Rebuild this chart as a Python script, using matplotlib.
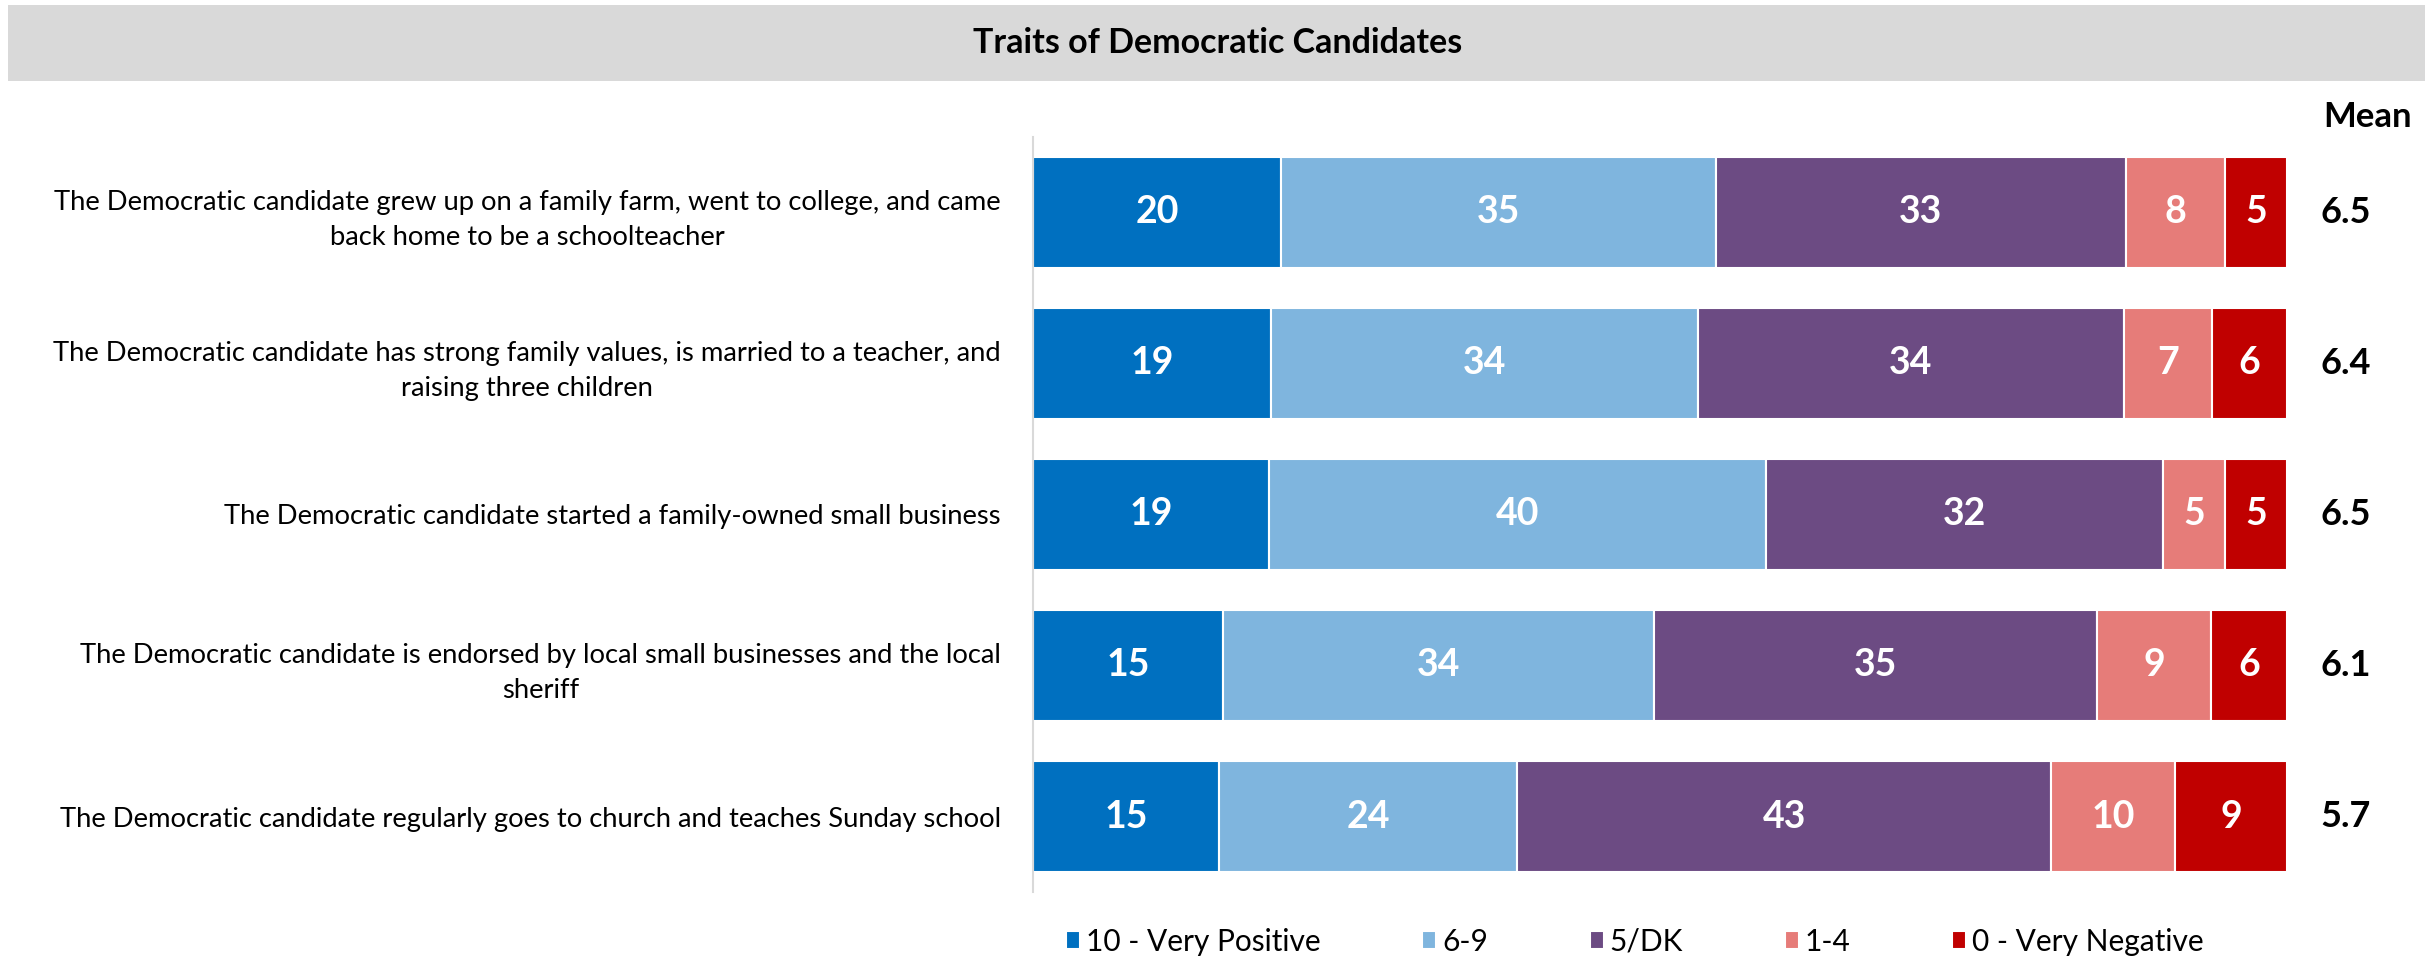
import matplotlib.pyplot as plt
import matplotlib as mpl
import numpy as np

mpl.rcParams["font.family"] = ["Lato", "DejaVu Sans"]

statements = [
    "The Democratic candidate grew up on a family farm, went to college, and came\nback home to be a schoolteacher",
    "The Democratic candidate has strong family values, is married to a teacher, and\nraising three children",
    "The Democratic candidate started a family-owned small business",
    "The Democratic candidate is endorsed by local small businesses and the local\nsheriff",
    "The Democratic candidate regularly goes to church and teaches Sunday school",
]

categories = ["10 - Very Positive", "6-9", "5/DK", "1-4", "0 - Very Negative"]
very_positive = [20, 19, 19, 15, 15]
positive = [35, 34, 40, 34, 24]
neutral_dk = [33, 34, 32, 35, 43]
negative = [8, 7, 5, 9, 10]
very_negative = [5, 6, 5, 6, 9]
means = [6.5, 6.4, 6.5, 6.1, 5.7]

colors = ["#0070C0", "#7FB5DE", "#6C4B83", "#E67C79", "#C00000"]

series = [very_positive, positive, neutral_dk, negative, very_negative]
# rounded shares don't always add to 100, so each bar is scaled to its row total
totals = np.sum(series, axis=0)

fig = plt.figure(figsize=(24.33, 9.66), dpi=100)

# grey title band across the top
fig.patches.append(
    mpl.patches.Rectangle(
        (0.0033, 0.916), 0.9934, 0.0787,
        transform=fig.transFigure, facecolor="#D9D9D9", edgecolor="none",
    )
)
fig.text(0.5006, 0.9555, "Traits of Democratic Candidates",
         ha="center", va="center", fontsize=24.5, fontweight="bold")

ax = fig.add_axes([0.4246, 0.0766, 0.5154, 0.7816])

y = np.arange(len(statements))
left = np.zeros(len(statements))
for name, values, color in zip(categories, series, colors):
    values = np.array(values)
    widths = values / totals * 100
    bars = ax.barh(y, widths, left=left, height=0.73, color=color,
                   edgecolor="white", linewidth=1.5, label=name)
    for bar, v in zip(bars, values):
        ax.text(bar.get_x() + bar.get_width() / 2, bar.get_y() + bar.get_height() / 2,
                f"{v}", ha="center", va="center", color="white",
                fontsize=27, fontweight="bold")
    left += widths

# mean column to the right of the bars
ax.text(106.4, -0.63, "Mean", ha="center", va="center",
        fontsize=25, fontweight="bold", clip_on=False)
for yi, m in zip(y, means):
    ax.text(104.7, yi, f"{m:.1f}", ha="center", va="center",
            fontsize=26, fontweight="bold", clip_on=False)

ax.set_xlim(0, 100)
ax.set_ylim(4.5, -0.5)
ax.set_yticks(y)
ax.set_yticklabels(statements, fontsize=19.7, linespacing=1.5)
for t in ax.get_yticklabels():
    t.set_multialignment("center")
ax.tick_params(axis="y", length=0, pad=23)
ax.set_xticks([])
for side in ["top", "right", "bottom"]:
    ax.spines[side].set_visible(False)
ax.spines["left"].set_color("#D9D9D9")
ax.spines["left"].set_linewidth(1.5)

fig.legend(loc="center", bbox_to_anchor=(0.672, 0.025), ncol=5, frameon=False,
           fontsize=21.5, handlelength=0.47, handleheight=0.55,
           handletextpad=0.2, columnspacing=3.4)

fig.savefig("out.png", dpi=100)
